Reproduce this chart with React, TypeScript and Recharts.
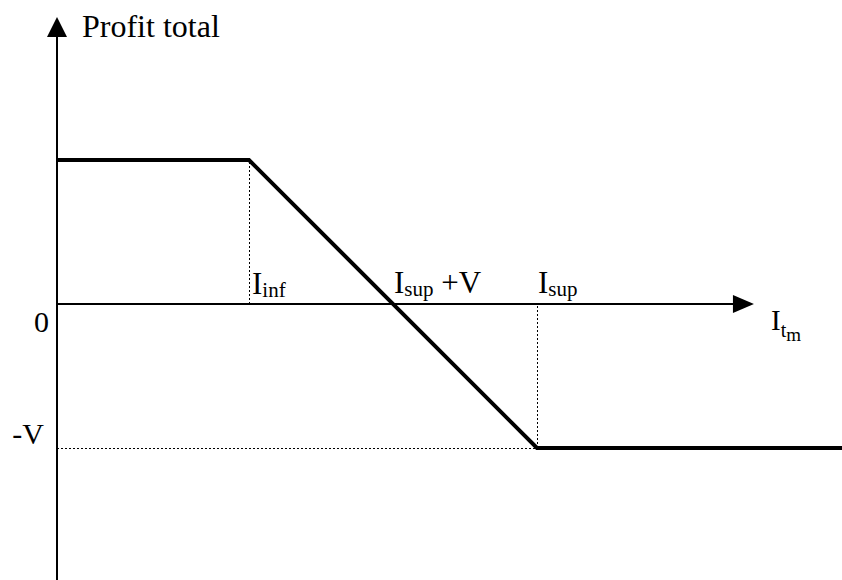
import React from 'react';
import { LineChart, Line, XAxis, YAxis, ReferenceLine, ReferenceDot } from 'recharts';

// profit curve break points (x: I_t_m, y: profit)
const profitX = [0, 2, 5, 8.2];
const profitY = [1.5, 1.5, -1.5, -1.5];

// key levels on the axes
const iInf = 2;
const iSup = 5;
const breakEven = 3.5;
const gainLevel = 1.5;
const lossLevel = -1.5;

// axis extents
const xAxisEnd = 7.26;
const yAxisTop = 2.99;
const yAxisBottom = -2.875;

const data = profitX.map((x, i) => ({ x, profit: profitY[i] }));

const FONT = "'Liberation Serif', 'Times New Roman', 'DejaVu Serif', serif";

const ArrowRight = (props: any) => {
    const { cx, cy } = props;
    return <path d={`M${cx},${cy} L${cx - 21},${cy - 9} L${cx - 21},${cy + 9} Z`} fill="#000" />;
};

const ArrowUp = (props: any) => {
    const { cx, cy } = props;
    return <path d={`M${cx},${cy} L${cx - 10},${cy + 20} L${cx + 10},${cy + 20} Z`} fill="#000" />;
};

const makeLabel = (content: React.ReactNode, dx: number, dy: number, anchor: 'start' | 'end' = 'start', size = 31) =>
    (props: any) => (
        <text
            x={props.cx + dx}
            y={props.cy + dy}
            textAnchor={anchor}
            style={{ fontFamily: FONT, fontSize: size }}
            fill="#000"
        >
            {content}
        </text>
    );

const dotted = { stroke: '#000', strokeWidth: 1, strokeDasharray: '2 2', shapeRendering: 'crispEdges' as const };

export default function App() {
    return (
        <div style={{ position: 'absolute', left: 0, top: 0, width: 842, height: 580, background: '#fff', fontFamily: FONT }}>
            <LineChart
                width={842}
                height={580}
                data={data}
                margin={{ top: 0, right: 0, bottom: 0, left: 0 }}
            >
                <XAxis type="number" dataKey="x" domain={[-57 / 96, 785 / 96]} hide allowDataOverflow />
                <YAxis type="number" domain={[-2.875, 304 / 96]} hide allowDataOverflow />

                {/* axes */}
                <ReferenceLine segment={[{ x: 0, y: 0 }, { x: xAxisEnd - 0.1, y: 0 }]} stroke="#000" strokeWidth={2} />
                <ReferenceLine segment={[{ x: 0, y: yAxisBottom }, { x: 0, y: yAxisTop - 0.1 }]} stroke="#000" strokeWidth={2} />
                <ReferenceDot x={xAxisEnd} y={0} r={0} shape={ArrowRight} />
                <ReferenceDot x={0} y={yAxisTop} r={0} shape={ArrowUp} />

                {/* dotted guides */}
                <ReferenceLine segment={[{ x: iInf, y: 0 }, { x: iInf, y: gainLevel }]} {...dotted} />
                <ReferenceLine segment={[{ x: iSup, y: lossLevel }, { x: iSup, y: 0 }]} {...dotted} />
                <ReferenceLine segment={[{ x: 0, y: lossLevel }, { x: iSup, y: lossLevel }]} {...dotted} />

                <Line
                    type="linear"
                    dataKey="profit"
                    stroke="#000"
                    strokeWidth={4}
                    strokeLinejoin="miter"
                    dot={false}
                    activeDot={false}
                    isAnimationActive={false}
                />

                {/* labels */}
                <ReferenceDot x={0} y={yAxisTop} r={0} shape={makeLabel('Profit total', 25, 20, 'start', 32)} />
                <ReferenceDot x={0} y={0} r={0} shape={makeLabel('0', -8, 28, 'end', 30)} />
                <ReferenceDot x={0} y={lossLevel} r={0} shape={makeLabel('-V', -13, -4, 'end', 30)} />
                <ReferenceDot
                    x={iInf}
                    y={0}
                    r={0}
                    shape={makeLabel(<><tspan>I</tspan><tspan fontSize={21} dy={3}>inf</tspan></>, 3, -10)}
                />
                <ReferenceDot
                    x={breakEven}
                    y={0}
                    r={0}
                    shape={makeLabel(<><tspan>I</tspan><tspan fontSize={21} dy={3}>sup</tspan><tspan dy={-3}> +V</tspan></>, 1, -11)}
                />
                <ReferenceDot
                    x={iSup}
                    y={0}
                    r={0}
                    shape={makeLabel(<><tspan>I</tspan><tspan fontSize={21} dy={3}>sup</tspan></>, 1, -11)}
                />
                <ReferenceDot
                    x={xAxisEnd}
                    y={0}
                    r={0}
                    shape={makeLabel(<><tspan>I</tspan><tspan fontSize={20} dy={7}>t</tspan><tspan fontSize={19} dy={4}>m</tspan></>, 17, 26, 'start', 29)}
                />
            </LineChart>
        </div>
    );
}
